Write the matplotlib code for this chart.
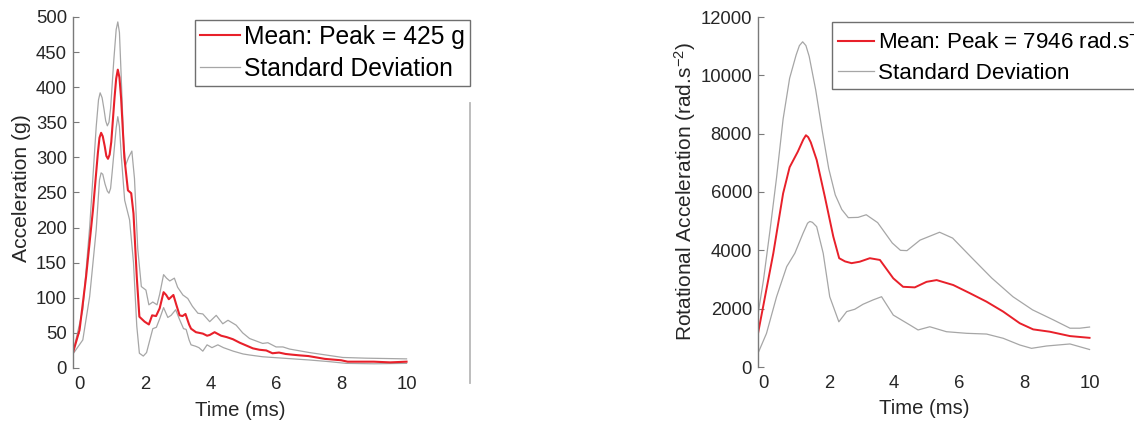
import matplotlib
matplotlib.use("Agg")
import matplotlib.pyplot as plt
from matplotlib.lines import Line2D

plt.rcParams['font.family'] = ['Liberation Sans', 'DejaVu Sans']
plt.rcParams['mathtext.fontset'] = 'custom'
plt.rcParams['mathtext.rm'] = 'Liberation Sans'
plt.rcParams['mathtext.it'] = 'Liberation Sans:italic'
plt.rcParams['mathtext.bf'] = 'Liberation Sans:bold'

# ---------------- Left panel: linear acceleration (g) ----------------
lin_mean_t = [-0.2, 0.0, 0.2, 0.41, 0.56, 0.61, 0.66, 0.71, 0.77, 0.82, 0.87, 0.92, 0.97,
              1.07, 1.12, 1.17, 1.22, 1.27, 1.37, 1.48, 1.58, 1.65, 1.75, 1.83, 1.99, 2.12,
              2.22, 2.34, 2.45, 2.57, 2.65, 2.73, 2.87, 2.96, 3.06, 3.15, 3.24, 3.35, 3.41,
              3.56, 3.77, 3.9, 3.98, 4.13, 4.25, 4.33, 4.5, 4.69, 4.9, 5.1, 5.3, 5.5, 5.71,
              5.9, 6.1, 6.3, 6.5, 6.73, 7.0, 7.25, 7.5, 7.75, 8.0, 8.2, 8.5, 9.0, 9.5, 10.0]
lin_mean_v = [22, 54, 130, 225, 306, 328, 335, 330, 316, 302, 298, 304, 322,
              385, 412, 425, 414, 385, 300, 253, 249, 220, 130, 73, 66, 62,
              75, 74, 85, 108, 104, 98, 104, 90, 75, 74, 77, 62, 56,
              51, 49, 46, 47, 51, 48, 46, 44, 41, 36, 32, 28, 26, 25,
              21, 22, 20, 19, 18, 17, 15, 13, 12, 11, 9, 9, 9, 8, 9]

lin_upper_t = [-0.2, 0.1, 0.31, 0.51, 0.58, 0.63, 0.69, 0.75, 0.8, 0.85, 0.9, 0.95, 1.05,
               1.12, 1.17, 1.22, 1.27, 1.35, 1.41, 1.5, 1.6, 1.68, 1.78, 1.89, 2.03, 2.12,
               2.24, 2.37, 2.45, 2.57, 2.66, 2.76, 2.9, 3.0, 3.16, 3.31, 3.45, 3.62, 3.77,
               3.98, 4.18, 4.38, 4.54, 4.79, 4.99, 5.2, 5.6, 5.76, 6.01, 6.22, 6.42, 7.03,
               7.54, 8.05, 8.76, 10.0]
lin_upper_v = [22, 83, 201, 344, 382, 392, 385, 368, 352, 345, 350, 370, 440,
               482, 493, 478, 420, 320, 289, 300, 309, 270, 170, 116, 111, 90,
               94, 90, 105, 133, 128, 124, 128, 115, 104, 99, 88, 78, 77,
               66, 75, 63, 68, 61, 50, 42, 35, 36, 30, 30, 27, 22,
               18.5, 15, 14, 13]

lin_lower_t = [-0.2, 0.1, 0.31, 0.51, 0.61, 0.66, 0.71, 0.78, 0.85, 0.9, 0.95, 1.0, 1.12,
               1.17, 1.22, 1.28, 1.38, 1.53, 1.65, 1.75, 1.83, 1.95, 2.05, 2.15, 2.24, 2.35,
               2.45, 2.57, 2.7, 2.8, 2.94, 3.05, 3.18, 3.26, 3.35, 3.41, 3.55, 3.65, 3.77,
               3.9, 4.05, 4.23, 4.4, 4.7, 5.0, 5.2, 5.6, 6.22, 7.03, 7.65, 8.15, 9.0, 10.0]
lin_lower_v = [20, 40, 102, 197, 268, 278, 276, 262, 252, 249, 256, 280, 342,
               358, 344, 300, 239, 211, 150, 60, 21, 17, 22, 40, 56, 58,
               70, 86, 72, 75, 83, 70, 56, 55, 40, 33, 31, 29, 24,
               33, 29, 33, 29, 24, 20, 18.5, 16, 14, 11.4, 9, 6.6, 6, 6.6]

lin_yticks = [0, 50, 100, 150, 200, 250, 300, 350, 400, 450, 500]

# ---------------- Right panel: rotational acceleration ----------------
rot_mean_t = [-0.17, 0.3, 0.6, 0.8, 1.05, 1.22, 1.3, 1.37, 1.45, 1.63, 1.88, 2.14, 2.32,
              2.5, 2.7, 2.95, 3.26, 3.57, 3.98, 4.28, 4.64, 5.0, 5.31, 5.82, 6.33, 6.84,
              7.35, 7.86, 8.27, 8.78, 9.4, 10.0]
rot_mean_v = [1150, 3900, 5950, 6850, 7380, 7800, 7946, 7880, 7700, 7100, 5840, 4470, 3730,
              3620, 3560, 3610, 3730, 3670, 3040, 2750, 2730, 2920, 2980, 2810, 2530, 2240,
              1900, 1500, 1290, 1210, 1060, 1000]

rot_upper_t = [-0.17, 0.0, 0.2, 0.4, 0.6, 0.8, 1.0, 1.1, 1.2, 1.3, 1.4, 1.6, 1.8, 2.0,
               2.2, 2.4, 2.6, 2.9, 3.15, 3.5, 3.95, 4.2, 4.4, 4.8, 5.4, 5.8, 6.4, 7.0,
               7.65, 8.25, 8.9, 9.4, 9.7, 10.0]
rot_upper_v = [1800, 3000, 4700, 6500, 8500, 9900, 10700, 11020, 11150, 11020, 10650, 9500,
               8100, 6800, 5900, 5400, 5120, 5130, 5220, 4950, 4250, 4000, 3990, 4350,
               4620, 4420, 3730, 3050, 2410, 1960, 1610, 1330, 1330, 1370]

rot_lower_t = [-0.17, 0.09, 0.4, 0.71, 0.96, 1.21, 1.35, 1.42, 1.5, 1.63, 1.83, 2.03, 2.31,
               2.55, 2.8, 3.05, 3.36, 3.62, 3.98, 4.49, 4.74, 5.1, 5.61, 6.23, 6.84, 7.35,
               7.86, 8.22, 8.68, 9.4, 10.0]
rot_lower_v = [470, 1150, 2410, 3440, 3900, 4580, 4930, 4990, 4960, 4810, 3900, 2410, 1550,
               1900, 1980, 2150, 2300, 2410, 1780, 1440, 1270, 1380, 1210, 1155, 1130, 985,
               755, 640, 720, 790, 600]

rot_yticks = [0, 2000, 4000, 6000, 8000, 10000, 12000]

xticks = [0, 2, 4, 6, 8, 10]

lin_legend = ["Mean: Peak = 425 g", "Standard Deviation"]
rot_legend = ["Mean: Peak = 7946 rad.s$^{-2}$", "Standard Deviation"]
lin_ylabel = "Acceleration (g)"
rot_ylabel = "Rotational Acceleration (rad.s$^{-2}$)"
xlabel = "Time (ms)"

RED = '#e8202a'
GRAY = '#a6a6a6'
SPINE = '#7a7a7a'
TXT = '#262626'

W, H = 1134, 421
fig = plt.figure(figsize=(W / 100, H / 100), dpi=100)


def px_axes(left, top, right, bottom):
    return [left / W, 1 - bottom / H, (right - left) / W, (bottom - top) / H]


def style(ax, xlim, ylim, yticks):
    ax.set_xlim(*xlim)
    ax.set_ylim(*ylim)
    ax.set_xticks(xticks)
    ax.set_yticks(yticks)
    for s in ['top', 'right', 'bottom']:
        ax.spines[s].set_visible(False)
    ax.spines['left'].set_color(SPINE)
    ax.spines['left'].set_linewidth(1.0)
    ax.tick_params(axis='y', direction='in', length=4, width=0.8, color=SPINE,
                   labelsize=13.3, labelcolor=TXT, pad=4.3)
    ax.tick_params(axis='x', length=0, labelsize=13.3, labelcolor=TXT, pad=6)
    ax.patch.set_visible(False)


# left panel: x 0 -> px 80, 32.7 px / ms
axL = fig.add_axes(px_axes(73, 17, 73 + 10.6 * 32.7, 368))
style(axL, (-0.2, 10.4), (0, 500), lin_yticks)
axL.plot(lin_upper_t, lin_upper_v, color=GRAY, lw=0.9)
axL.plot(lin_lower_t, lin_lower_v, color=GRAY, lw=0.9)
axL.plot(lin_mean_t, lin_mean_v, color=RED, lw=1.5)

# right panel: x 0 -> px 763.7, 32.6 px / ms
axR = fig.add_axes(px_axes(758, 17, 758 + 10.57 * 32.6, 367))
style(axR, (-0.17, 10.4), (0, 12000), rot_yticks)
axR.plot(rot_upper_t, rot_upper_v, color=GRAY, lw=0.9)
axR.plot(rot_lower_t, rot_lower_v, color=GRAY, lw=0.9)
axR.plot(rot_mean_t, rot_mean_v, color=RED, lw=1.4)

handles = [Line2D([], [], color=RED, lw=1.5), Line2D([], [], color=GRAY, lw=0.9)]
leg_kw = dict(loc='upper left', bbox_transform=fig.transFigure,
              frameon=True, fancybox=False, framealpha=1, edgecolor='#6f6f6f',
              borderaxespad=0, handletextpad=0.16)
lgL = axL.legend(handles, lin_legend, bbox_to_anchor=(195 / W, 1 - 20 / H),
                 fontsize=17.7, handlelength=1.63, labelspacing=0.33, borderpad=0.2,
                 **leg_kw)
lgL.get_frame().set_linewidth(1.0)
lgR = axR.legend(handles, rot_legend, bbox_to_anchor=(832 / W, 1 - 22 / H),
                 fontsize=16.1, handlelength=1.65, labelspacing=0.42, borderpad=0.25,
                 **leg_kw)
lgR.get_frame().set_linewidth(1.0)

# axis labels
fig.text(240 / W, 1 - 410 / H, xlabel, ha='center', va='center', fontsize=14.6, color=TXT)
fig.text(924 / W, 1 - 409 / H, xlabel, ha='center', va='center', fontsize=14.6, color=TXT)
fig.text(22 / W, 1 - 188 / H, lin_ylabel, rotation=90, ha='center', va='center',
         fontsize=15.2, color=TXT)
fig.text(685 / W, 1 - 192 / H, rot_ylabel, rotation=90, ha='center', va='center',
         fontsize=15.0, color=TXT)

# thin divider line between the panels
fig.add_artist(Line2D([469.5 / W, 469.5 / W], [1 - 103 / H, 1 - 383 / H],
                      transform=fig.transFigure, color='#b8b8b8', lw=1.3))

fig.savefig('out.png', dpi=100)
